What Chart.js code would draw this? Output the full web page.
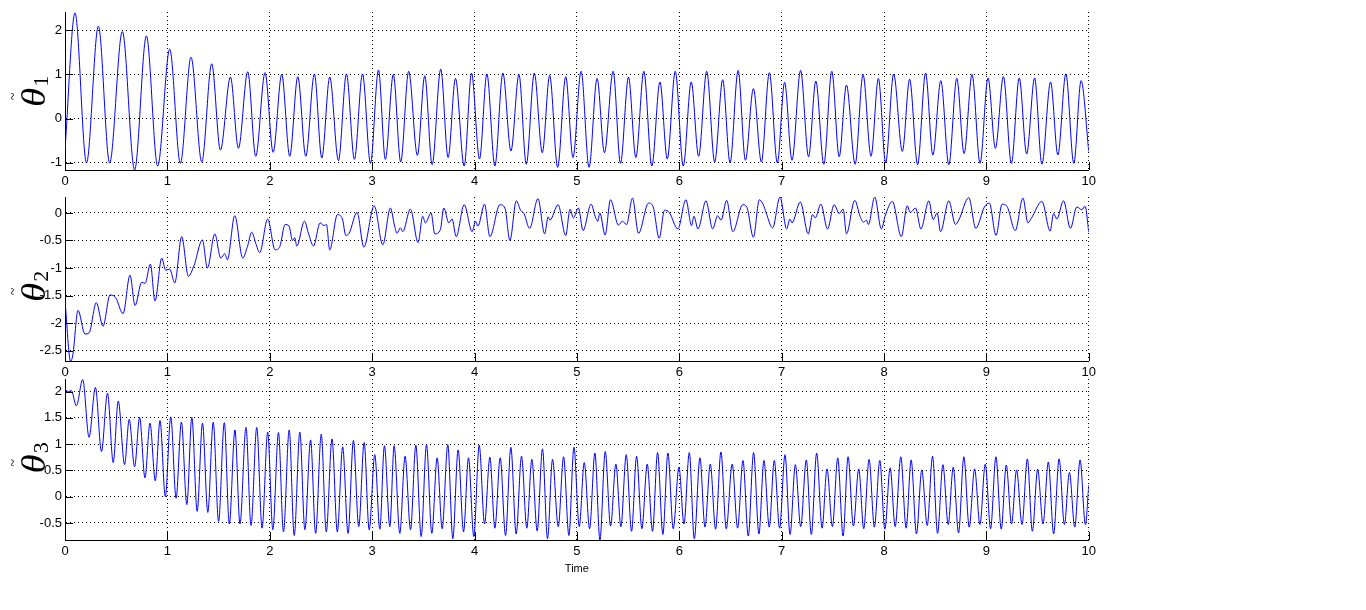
<!DOCTYPE html>
<html>
<head>
<meta charset="utf-8">
<script src="https://cdn.jsdelivr.net/npm/chart.js@4.4.1/dist/chart.umd.min.js"></script>
<style>
  html, body { margin: 0; padding: 0; background: #fff; }
  body { width: 1366px; height: 610px; position: relative; overflow: hidden; }
  canvas { position: absolute; left: 0; }
</style>
</head>
<body>
<canvas id="theta1Chart" width="1100" height="190" style="top:0px"></canvas>
<canvas id="theta2Chart" width="1100" height="196" style="top:185px"></canvas>
<canvas id="theta3Chart" width="1100" height="209" style="top:367px"></canvas>
<script>
// values (time in s, peaks / troughs of each trace)
const xTicks = [0, 1, 2, 3, 4, 5, 6, 7, 8, 9, 10];

const theta1Time = [
  0, 0.098, 0.21, 0.326, 0.436, 0.56, 0.68, 0.795, 0.905, 1.023,
  1.127, 1.231, 1.336, 1.433, 1.518, 1.616, 1.694, 1.785, 1.863, 1.954,
  2.033, 2.117, 2.195, 2.274, 2.352, 2.436, 2.508, 2.586, 2.671, 2.749,
  2.827, 2.906, 2.984, 3.062, 3.129, 3.207, 3.279, 3.357, 3.442, 3.514,
  3.586, 3.67, 3.742, 3.814, 3.899, 3.971, 4.049, 4.121, 4.199, 4.277,
  4.356, 4.434, 4.506, 4.584, 4.662, 4.734, 4.812, 4.891, 4.962, 5.041,
  5.119, 5.197, 5.269, 5.354, 5.426, 5.504, 5.576, 5.654, 5.732, 5.811,
  5.883, 5.961, 6.039, 6.117, 6.189, 6.268, 6.346, 6.424, 6.496, 6.575,
  6.646, 6.724, 6.802, 6.88, 6.958, 7.029, 7.101, 7.185, 7.263, 7.334,
  7.412, 7.49, 7.562, 7.633, 7.718, 7.795, 7.873, 7.945, 8.016, 8.094,
  8.179, 8.25, 8.328, 8.406, 8.477, 8.555, 8.633, 8.711, 8.782, 8.86,
  8.938, 9.016, 9.088, 9.166, 9.244, 9.321, 9.393, 9.471, 9.542, 9.627,
  9.698, 9.776, 9.854, 9.925, 10
];
const theta1Values = [
  -0.7, 2.39, -1.0, 2.09, -1.0, 1.97, -1.16, 1.87, -1.07, 1.57,
  -1.01, 1.39, -0.98, 1.24, -0.71, 0.94, -0.67, 1.06, -0.85, 1.04,
  -0.76, 1.0, -0.85, 0.95, -0.85, 1.01, -0.89, 0.94, -0.95, 1.01,
  -0.92, 1.01, -1.01, 1.10, -0.92, 1.0, -0.98, 1.07, -0.83, 0.97,
  -1.04, 1.12, -0.88, 0.91, -1.07, 1.03, -0.91, 1.01, -1.07, 1.03,
  -0.73, 1.0, -1.03, 1.03, -0.77, 0.98, -1.1, 0.95, -0.88, 1.07,
  -1.1, 0.91, -0.77, 1.07, -1.01, 0.94, -0.88, 1.07, -1.07, 0.83,
  -0.91, 1.07, -1.07, 0.83, -0.85, 1.07, -0.98, 0.88, -1.0, 1.09,
  -0.94, 0.68, -0.98, 1.04, -1.0, 0.82, -0.94, 1.09, -0.86, 0.85,
  -1.03, 1.07, -0.86, 0.76, -1.03, 1.0, -0.85, 0.91, -1.0, 1.01,
  -0.74, 0.89, -1.04, 1.03, -0.82, 0.86, -1.04, 0.91, -0.79, 1.0,
  -1.01, 0.92, -0.67, 0.95, -1.01, 0.92, -0.8, 0.92, -1.03, 0.83,
  -0.82, 1.01, -1.01, 0.86, -0.74
];
const theta1Ticks = [-1, 0, 1, 2];

const theta2Time = [
  0, 0.055, 0.078, 0.127, 0.195, 0.235, 0.306, 0.371, 0.44, 0.495,
  0.567, 0.635, 0.684, 0.749, 0.782, 0.834, 0.879, 0.945, 0.984, 1.023,
  1.072, 1.14, 1.205, 1.261, 1.342, 1.391, 1.463, 1.521, 1.56, 1.586,
  1.658, 1.736, 1.782, 1.824, 1.863, 1.902, 1.98, 2.052, 2.098, 2.15,
  2.189, 2.222, 2.244, 2.264, 2.339, 2.378, 2.427, 2.492, 2.531, 2.554,
  2.586, 2.661, 2.71, 2.743, 2.775, 2.853, 2.919, 3.02, 3.104, 3.178,
  3.22, 3.243, 3.276, 3.299, 3.374, 3.449, 3.494, 3.52, 3.576, 3.612,
  3.667, 3.7, 3.749, 3.781, 3.821, 3.899, 3.977, 4.01, 4.033, 4.098,
  4.15, 4.248, 4.297, 4.346, 4.408, 4.45, 4.483, 4.538, 4.62, 4.685,
  4.72, 4.737, 4.816, 4.891, 4.933, 4.966, 5.015, 5.06, 5.139, 5.178,
  5.204, 5.224, 5.276, 5.328, 5.406, 5.445, 5.485, 5.543, 5.602, 5.7,
  5.745, 5.804, 5.856, 5.902, 5.986, 6.065, 6.12, 6.143, 6.183, 6.261,
  6.326, 6.375, 6.408, 6.463, 6.523, 6.62, 6.659, 6.724, 6.782, 6.821,
  6.847, 6.912, 6.984, 7.049, 7.081, 7.101, 7.182, 7.26, 7.302, 7.328,
  7.383, 7.448, 7.513, 7.562, 7.601, 7.633, 7.714, 7.766, 7.799, 7.828,
  7.847, 7.909, 7.974, 8.01, 8.081, 8.169, 8.227, 8.256, 8.308, 8.36,
  8.438, 8.48, 8.519, 8.552, 8.633, 8.698, 8.73, 8.828, 8.896, 8.981,
  9.029, 9.094, 9.153, 9.201, 9.282, 9.357, 9.406, 9.438, 9.542, 9.623,
  9.656, 9.688, 9.753, 9.821, 9.883, 9.932, 9.964, 10
];
const theta2Values = [
  -1.59, -2.70, -2.56, -1.77, -2.2, -2.18, -1.63, -2.06, -1.49, -1.54,
  -1.83, -1.13, -1.68, -1.26, -1.28, -0.93, -1.6, -0.82, -1.04, -1.02,
  -1.27, -0.43, -1.15, -0.95, -0.49, -1.0, -0.38, -0.82, -0.74, -0.85,
  -0.05, -0.82, -0.61, -0.35, -0.55, -0.72, -0.11, -0.67, -0.61, -0.21,
  -0.24, -0.5, -0.45, -0.6, -0.15, -0.37, -0.6, -0.18, -0.23, -0.21,
  -0.67, -0.03, -0.11, -0.41, -0.37, 0.01, -0.62, 0.13, -0.58, 0.09,
  -0.24, -0.37, -0.27, -0.34, 0.07, -0.54, -0.06, -0.18, 0.0, -0.38,
  -0.30, 0.09, -0.18, -0.11, -0.43, 0.15, -0.34, -0.15, -0.24, 0.16,
  -0.43, 0.15, 0.09, -0.5, 0.22, 0.05, -0.01, -0.28, 0.26, -0.38,
  -0.07, -0.13, 0.15, -0.41, 0.07, -0.09, 0.09, -0.32, 0.16, -0.06,
  -0.15, 0.0, -0.4, 0.24, -0.22, -0.15, -0.21, 0.27, -0.37, 0.18,
  0.11, -0.46, 0.05, 0.01, -0.29, 0.24, -0.23, -0.06, -0.29, 0.22,
  -0.29, -0.05, -0.13, 0.23, -0.34, 0.15, 0.11, -0.44, 0.24, 0.15,
  0.01, -0.27, 0.29, -0.29, -0.11, -0.18, 0.2, -0.38, -0.03, -0.09,
  0.16, -0.29, 0.15, -0.01, 0.07, -0.38, 0.23, -0.06, -0.17, -0.13,
  -0.21, 0.29, -0.29, -0.06, 0.21, -0.43, 0.13, 0.01, 0.09, -0.29,
  0.22, -0.12, 0.0, -0.34, 0.22, -0.21, -0.13, 0.28, -0.28, 0.11,
  0.18, -0.41, 0.16, 0.12, -0.32, 0.27, -0.18, -0.1, 0.21, -0.33,
  -0.01, -0.11, 0.22, -0.28, 0.11, 0.06, 0.12, -0.35
];
const theta2Ticks = [-2.5, -2, -1.5, -1, -0.5, 0];

const theta3Time = [
  0, 0.036, 0.062, 0.111, 0.173, 0.235, 0.297, 0.356, 0.415, 0.471,
  0.52, 0.582, 0.627, 0.68, 0.729, 0.781, 0.83, 0.882, 0.928, 0.98,
  1.033, 1.085, 1.137, 1.19, 1.239, 1.291, 1.343, 1.395, 1.448, 1.5,
  1.556, 1.605, 1.66, 1.709, 1.768, 1.817, 1.873, 1.925, 1.98, 2.03,
  2.085, 2.134, 2.19, 2.239, 2.294, 2.343, 2.399, 2.448, 2.503, 2.552,
  2.608, 2.66, 2.712, 2.765, 2.817, 2.869, 2.922, 2.971, 3.026, 3.075,
  3.12, 3.173, 3.215, 3.27, 3.322, 3.375, 3.427, 3.479, 3.531, 3.583,
  3.635, 3.684, 3.739, 3.788, 3.84, 3.893, 3.941, 3.993, 4.046, 4.098,
  4.15, 4.199, 4.251, 4.303, 4.355, 4.407, 4.459, 4.511, 4.56, 4.612,
  4.664, 4.713, 4.762, 4.818, 4.87, 4.922, 4.971, 5.023, 5.072, 5.124,
  5.176, 5.225, 5.277, 5.329, 5.381, 5.43, 5.482, 5.534, 5.583, 5.635,
  5.687, 5.739, 5.788, 5.84, 5.889, 5.941, 5.997, 6.046, 6.098, 6.147,
  6.202, 6.251, 6.303, 6.355, 6.407, 6.459,
  6.517, 6.57, 6.622, 6.674, 6.726, 6.778, 6.827, 6.879, 6.928, 6.98,
  7.033, 7.082, 7.134, 7.186, 7.241, 7.29, 7.342, 7.395, 7.443, 7.496,
  7.548, 7.6, 7.649, 7.701, 7.753, 7.802, 7.854, 7.906, 7.959, 8.008,
  8.06, 8.109, 8.164, 8.216, 8.265, 8.317, 8.369, 8.422, 8.474, 8.523,
  8.575, 8.627, 8.676, 8.728, 8.78, 8.832, 8.885, 8.937, 8.989, 9.041,
  9.093, 9.145, 9.194, 9.246, 9.295, 9.348, 9.4, 9.449, 9.501, 9.553,
  9.605, 9.657, 9.71, 9.762, 9.811, 9.863, 9.915, 9.967, 10
];
const theta3Values = [
  2.04, 2.0, 2.02, 1.73, 2.23, 1.13, 2.08, 0.86, 1.97, 0.65,
  1.82, 0.61, 1.47, 0.57, 1.51, 0.36, 1.40, 0.30, 1.45, 0.0,
  1.52, -0.03, 1.42, -0.15, 1.51, -0.28, 1.40, -0.30, 1.42, -0.47,
  1.41, -0.52, 1.27, -0.52, 1.32, -0.55, 1.32, -0.60, 1.23, -0.63,
  1.22, -0.67, 1.27, -0.74, 1.23, -0.63, 1.08, -0.70, 1.19, -0.67,
  1.10, -0.67, 0.95, -0.70, 1.07, -0.57, 1.03, -0.63, 0.80, -0.62,
  0.97, -0.57, 0.97, -0.70, 0.77, -0.63, 0.98, -0.76, 0.99, -0.70,
  0.74, -0.61, 0.99, -0.80, 0.89, -0.67, 0.74, -0.76, 0.98, -0.52,
  0.75, -0.60, 0.74, -0.74, 0.94, -0.71, 0.77, -0.60, 0.71, -0.65,
  0.91, -0.80, 0.71, -0.57, 0.76, -0.74, 0.94, -0.57, 0.65, -0.61,
  0.83, -0.83, 0.86, -0.56, 0.62, -0.57, 0.80, -0.66, 0.77, -0.61,
  0.62, -0.66, 0.84, -0.72, 0.83, -0.61, 0.56, -0.52, 0.84, -0.80,
  0.74, -0.58, 0.62, -0.62, 0.85, -0.61,
  0.62, -0.60, 0.69, -0.75, 0.84, -0.71, 0.69, -0.58, 0.69, -0.60,
  0.80, -0.72, 0.61, -0.57, 0.70, -0.72, 0.83, -0.60, 0.53, -0.57,
  0.74, -0.75, 0.76, -0.56, 0.53, -0.61, 0.71, -0.58, 0.69, -0.62,
  0.55, -0.57, 0.76, -0.60, 0.70, -0.71, 0.51, -0.55, 0.77, -0.70,
  0.61, -0.53, 0.56, -0.69, 0.76, -0.58, 0.53, -0.53, 0.62, -0.61,
  0.76, -0.62, 0.60, -0.52, 0.51, -0.53, 0.72, -0.66, 0.52, -0.52,
  0.66, -0.71, 0.72, -0.53, 0.46, -0.58, 0.70, -0.53, 0.22
];
const theta3Ticks = [-0.5, 0, 0.5, 1, 1.5, 2];

Chart.defaults.font.family = '"Liberation Sans", Arial, sans-serif';
Chart.defaults.font.size = 13;
Chart.defaults.color = '#000';

// MATLAB style: ticks pointing into the axes
const innerTicks = {
  id: 'innerTicks',
  afterDatasetsDraw(chart) {
    const { ctx, chartArea, scales } = chart;
    ctx.save();
    ctx.strokeStyle = '#000';
    ctx.lineWidth = 1;
    ctx.beginPath();
    scales.x.ticks.forEach(function (t) {
      const px = Math.round(scales.x.getPixelForValue(t.value)) + 0.5;
      ctx.moveTo(px, chartArea.bottom);
      ctx.lineTo(px, chartArea.bottom - 8);
    });
    scales.y.ticks.forEach(function (t) {
      const py = Math.round(scales.y.getPixelForValue(t.value)) + 0.5;
      ctx.moveTo(chartArea.left, py);
      ctx.lineTo(chartArea.left + 8, py);
    });
    ctx.stroke();
    ctx.restore();
  }
};

// rotated \tilde{\theta}_n label
const thetaLabel = {
  id: 'thetaLabel',
  afterDraw(chart, args, opts) {
    const { ctx, chartArea } = chart;
    const cy = (chartArea.top + chartArea.bottom) / 2;
    ctx.save();
    ctx.translate(45, cy + opts.shift);
    ctx.rotate(-Math.PI / 2);
    ctx.fillStyle = '#000';
    ctx.textBaseline = 'alphabetic';
    ctx.textAlign = 'left';
    ctx.font = 'italic 34px "Liberation Serif"';
    const w = ctx.measureText('θ').width * 1.15;
    ctx.save();
    ctx.scale(1.15, 1);
    ctx.fillText('θ', 0, 0);
    ctx.restore();
    ctx.font = '22px "Liberation Serif"';
    ctx.fillText(opts.sub, w + 1, 3);
    ctx.font = '14px "Liberation Serif"';
    ctx.textAlign = 'center';
    ctx.fillText('~', w / 2 + 1, -27);
    ctx.restore();
  }
};

function makePanel(canvasId, times, values, yMin, yMax, yTicks, sub, shift, xTitle) {
  const points = times.map(function (t, i) { return { x: t, y: values[i] }; });
  new Chart(document.getElementById(canvasId), {
    type: 'line',
    data: {
      datasets: [{
        data: points,
        borderColor: '#0000ff',
        borderWidth: 1,
        pointRadius: 0,
        fill: false,
        cubicInterpolationMode: 'monotone'
      }]
    },
    options: {
      responsive: false,
      animation: false,
      devicePixelRatio: 1,
      layout: { padding: { top: 12, right: 10, left: 0, bottom: 0 } },
      plugins: {
        legend: { display: false },
        tooltip: { enabled: false },
        thetaLabel: { sub: sub, shift: shift }
      },
      scales: {
        x: {
          type: 'linear',
          min: 0,
          max: 10,
          afterBuildTicks: function (scale) {
            scale.ticks = xTicks.map(function (v) { return { value: v }; });
          },
          afterFit: function (scale) { scale.height = xTitle ? 36 : 20; },
          ticks: { padding: 4, maxRotation: 0, autoSkip: false, callback: function (v) { return String(v); } },
          grid: { color: '#000', lineWidth: 1, drawTicks: false },
          border: { display: true, color: '#000', width: 1, dash: [1, 3] },
          title: { display: !!xTitle, text: xTitle || '', font: { size: 11 }, padding: 0 }
        },
        y: {
          min: yMin,
          max: yMax,
          afterBuildTicks: function (scale) {
            scale.ticks = yTicks.map(function (v) { return { value: v }; });
          },
          afterFit: function (scale) { scale.width = 65; },
          ticks: { padding: 3, autoSkip: false, callback: function (v) { return String(v); } },
          grid: { color: '#000', lineWidth: 1, drawTicks: false },
          border: { display: true, color: '#000', width: 1, dash: [1, 3] }
        }
      }
    },
    plugins: [innerTicks, thetaLabel]
  });
}

makePanel('theta1Chart', theta1Time, theta1Values, -1.16, 2.41, theta1Ticks, '1', 16, null);
makePanel('theta2Chart', theta2Time, theta2Values, -2.69, 0.29, theta2Ticks, '2', 23, null);
makePanel('theta3Chart', theta3Time, theta3Values, -0.825, 2.24, theta3Ticks, '3', 14, 'Time');
</script>
</body>
</html>
